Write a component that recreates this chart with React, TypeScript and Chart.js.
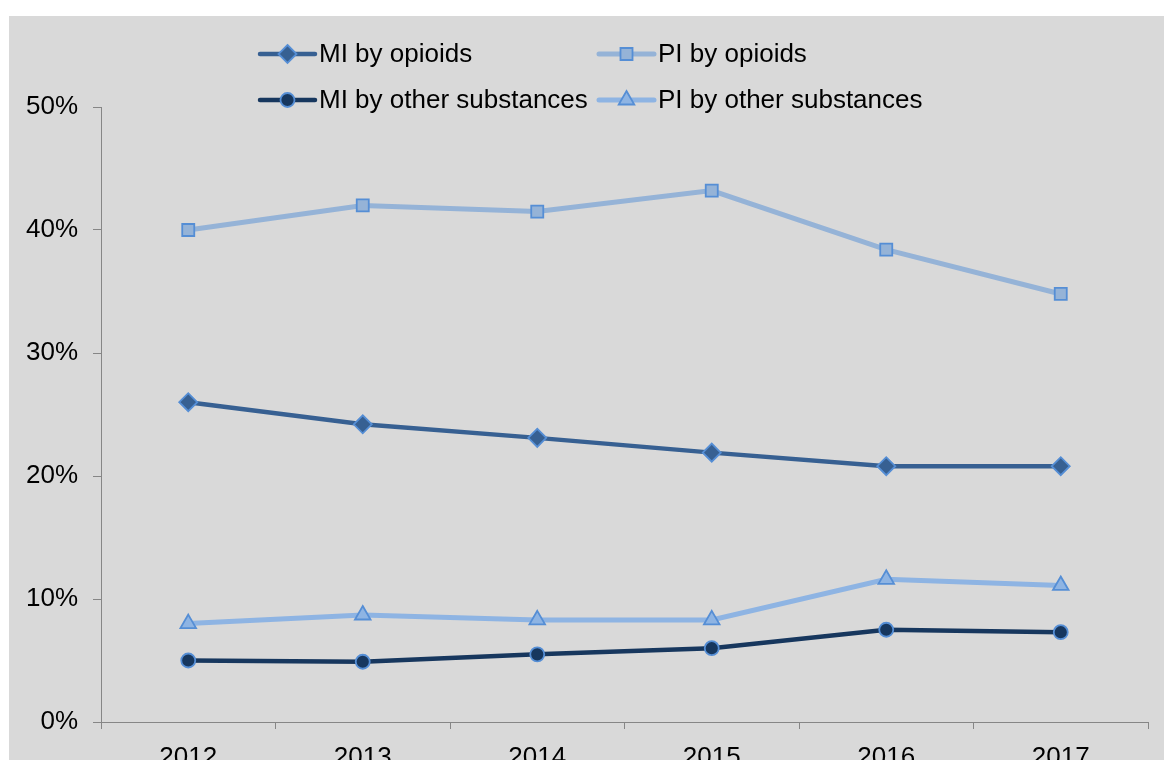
import React, { useEffect, useRef } from "react";
import { Chart, registerables } from "chart.js";

Chart.register(...registerables);

const years = ["2012", "2013", "2014", "2015", "2016", "2017"];
const miOpioids = [26.0, 24.2, 23.1, 21.9, 20.8, 20.8];
const piOpioids = [40.0, 42.0, 41.5, 43.2, 38.4, 34.8];
const miOther = [5.0, 4.9, 5.5, 6.0, 7.5, 7.3];
const piOther = [8.0, 8.7, 8.3, 8.3, 11.6, 11.1];
const yTicks = [0, 10, 20, 30, 40, 50];

const FONT = "'Liberation Sans', Arial, Helvetica, sans-serif";
const MARKER_BORDER = "#558ed5";

type SeriesDef = {
  label: string;
  data: number[];
  color: string;
  pointStyle: string;
  radius: number;
  lineWidth: number;
};

const series: SeriesDef[] = [
  { label: "MI by opioids", data: miOpioids, color: "#376092", pointStyle: "rectRot", radius: 9, lineWidth: 4.5 },
  { label: "PI by opioids", data: piOpioids, color: "#95b3d7", pointStyle: "rect", radius: 8.5, lineWidth: 5 },
  { label: "MI by other substances", data: miOther, color: "#17375e", pointStyle: "circle", radius: 7, lineWidth: 4.5 },
  { label: "PI by other substances", data: piOther, color: "#8eb4e3", pointStyle: "triangle", radius: 9, lineWidth: 5 },
];

function drawMarker(ctx: CanvasRenderingContext2D, style: string, x: number, y: number, r: number) {
  ctx.beginPath();
  if (style === "rectRot") {
    ctx.moveTo(x, y - r);
    ctx.lineTo(x + r, y);
    ctx.lineTo(x, y + r);
    ctx.lineTo(x - r, y);
    ctx.closePath();
  } else if (style === "rect") {
    const s = r * Math.SQRT1_2;
    ctx.rect(x - s, y - s, 2 * s, 2 * s);
  } else if (style === "circle") {
    ctx.arc(x, y, r, 0, Math.PI * 2);
  } else if (style === "triangle") {
    const w = r * Math.sin(Math.PI / 3);
    ctx.moveTo(x, y - r);
    ctx.lineTo(x + w, y + r / 2);
    ctx.lineTo(x - w, y + r / 2);
    ctx.closePath();
  }
  ctx.fill();
  ctx.stroke();
}

const legendPlugin = {
  id: "gridLegend",
  afterDraw(chart: any) {
    const ctx: CanvasRenderingContext2D = chart.ctx;
    const colX = [251, 590];
    const rowY = [38, 84];
    ctx.save();
    series.forEach((s, i) => {
      const cx = colX[i % 2];
      const cy = rowY[Math.floor(i / 2)];
      ctx.strokeStyle = s.color;
      ctx.lineWidth = s.lineWidth;
      ctx.lineCap = "round";
      ctx.beginPath();
      ctx.moveTo(cx, cy);
      ctx.lineTo(cx + 55, cy);
      ctx.stroke();
      ctx.fillStyle = s.color;
      ctx.strokeStyle = MARKER_BORDER;
      ctx.lineWidth = 1.8;
      drawMarker(ctx, s.pointStyle, cx + 27.5, cy, s.radius);
      ctx.fillStyle = "#000000";
      ctx.font = `26px ${FONT}`;
      ctx.textBaseline = "middle";
      ctx.textAlign = "left";
      ctx.fillText(s.label, cx + 59, cy + 1);
    });
    ctx.restore();
  },
};

export default function App() {
  const canvasRef = useRef<HTMLCanvasElement | null>(null);

  useEffect(() => {
    if (!canvasRef.current) return;
    const chart = new Chart(canvasRef.current, {
      type: "line",
      data: {
        labels: years,
        datasets: series.map((s) => ({
          label: s.label,
          data: s.data,
          borderColor: s.color,
          backgroundColor: s.color,
          borderWidth: s.lineWidth,
          pointStyle: s.pointStyle as any,
          pointRadius: s.radius,
          pointBackgroundColor: s.color,
          pointBorderColor: MARKER_BORDER,
          pointBorderWidth: 1.8,
          tension: 0,
          fill: false,
        })),
      },
      options: {
        responsive: false,
        animation: false,
        devicePixelRatio: 1,
        layout: { padding: { top: 91, right: 16, left: 0, bottom: 0 } },
        plugins: {
          legend: { display: false },
          tooltip: { enabled: false },
        },
        scales: {
          x: {
            type: "category",
            offset: true,
            grid: {
              offset: true,
              drawOnChartArea: false,
              drawTicks: true,
              tickLength: 7,
              color: "#868686",
            },
            border: { color: "#868686", width: 1 },
            ticks: {
              color: "#000000",
              padding: 13,
              font: { family: FONT, size: 26 },
              maxRotation: 0,
            },
            afterFit: (scale: any) => {
              scale.height = 64;
            },
          },
          y: {
            min: 0,
            max: 50,
            afterBuildTicks: (scale: any) => {
              scale.ticks = yTicks.map((v) => ({ value: v }));
            },
            grid: {
              drawOnChartArea: false,
              drawTicks: true,
              tickLength: 8,
              color: "#868686",
            },
            border: { color: "#868686", width: 1 },
            ticks: {
              color: "#000000",
              padding: 15,
              font: { family: FONT, size: 26 },
              callback: (v: any) => `${v}%`,
            },
            afterFit: (scale: any) => {
              scale.width = 92;
            },
          },
        },
      },
      plugins: [legendPlugin],
    });
    return () => chart.destroy();
  }, []);

  return (
    <div
      style={{
        position: "fixed",
        left: 9,
        top: 16,
        width: 1155,
        height: 744,
        overflow: "hidden",
        background: "#d9d9d9",
      }}
    >
      <canvas ref={canvasRef} width={1155} height={770} style={{ display: "block" }} />
    </div>
  );
}
